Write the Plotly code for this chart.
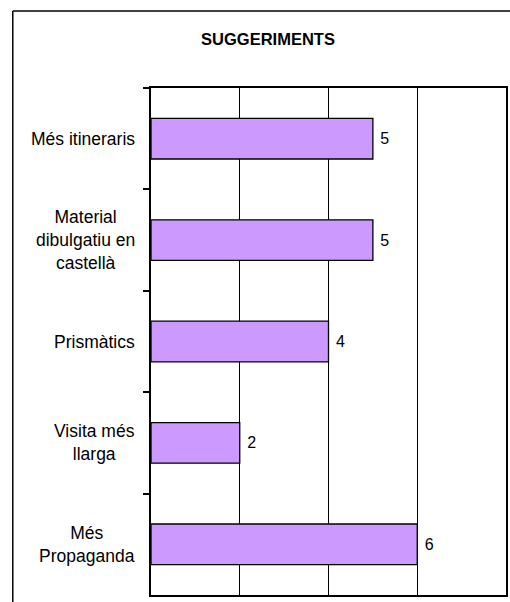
import plotly.graph_objects as go

# data
categories = ["Més itineraris", "Material<br>dibulgatiu en<br>castellà", "Prismàtics",
              "Visita més<br>llarga", "Més<br>Propaganda"]
values = [5, 5, 4, 2, 6]
chart_title = "SUGGERIMENTS"

FONT = "Liberation Sans, Arial, sans-serif"

W, H = 510, 602
L, T, R, B = 151, 88, 2, 7
PW, PH = W - L - R, H - T - B

fig = go.Figure()

fig.add_trace(go.Bar(
    x=values,
    y=categories,
    orientation="h",
    marker=dict(color="#CC99FF", line=dict(color="black", width=1.3)),
    text=values,
    texttemplate=" %{x}",
    textposition="outside",
    textfont=dict(family=FONT, size=16, color="black"),
    cliponaxis=False,
    hoverinfo="skip",
))

# category labels, lines centred like the original
for cat in categories:
    fig.add_annotation(
        x=-14 / PW, xref="paper", y=cat, yref="y",
        text=cat, showarrow=False, xanchor="right", align="center",
        font=dict(family=FONT, size=17.5, color="black"),
    )

fig.update_layout(
    width=W, height=H,
    margin=dict(l=L, r=R, t=T, b=B),
    paper_bgcolor="white", plot_bgcolor="white",
    showlegend=False,
    bargap=0.6,
    font=dict(family=FONT, size=16, color="black"),
    title=dict(text="<b>" + chart_title + "</b>", x=268 / W, xref="container",
               y=1 - 39 / H, yref="container", yanchor="middle", xanchor="center",
               font=dict(family=FONT, size=16.5, color="black")),
)

fig.update_xaxes(
    range=[0, 8], dtick=2, showgrid=True, gridcolor="black", gridwidth=1,
    zeroline=False, showticklabels=False,
    showline=True, mirror=True, linecolor="black", linewidth=1.5,
)
fig.update_yaxes(
    range=[4.5, -0.5], type="category", showgrid=False, showticklabels=False,
    ticks="outside", tickson="boundaries", ticklen=6, tickcolor="black", tickwidth=1.5,
    showline=True, mirror=True, linecolor="black", linewidth=2,
)

# outer chart frame: only its left and top edges fall inside the window
fx0 = (12 - L) / PW
fy1 = 1 + (T - 11) / PH
fig.add_shape(type="line", xref="paper", yref="paper",
              x0=fx0, x1=fx0, y0=-0.1, y1=fy1,
              line=dict(color="black", width=1.5))
fig.add_shape(type="line", xref="paper", yref="paper",
              x0=fx0, x1=1.1, y0=fy1, y1=fy1,
              line=dict(color="black", width=1.5))

# drop the default page margin so the 510x602 figure fills the window exactly
fig.write_html("out.html", config={"displayModeBar": False},
               post_script="document.body.style.margin='0';"
                           "document.body.style.overflow='hidden';")
